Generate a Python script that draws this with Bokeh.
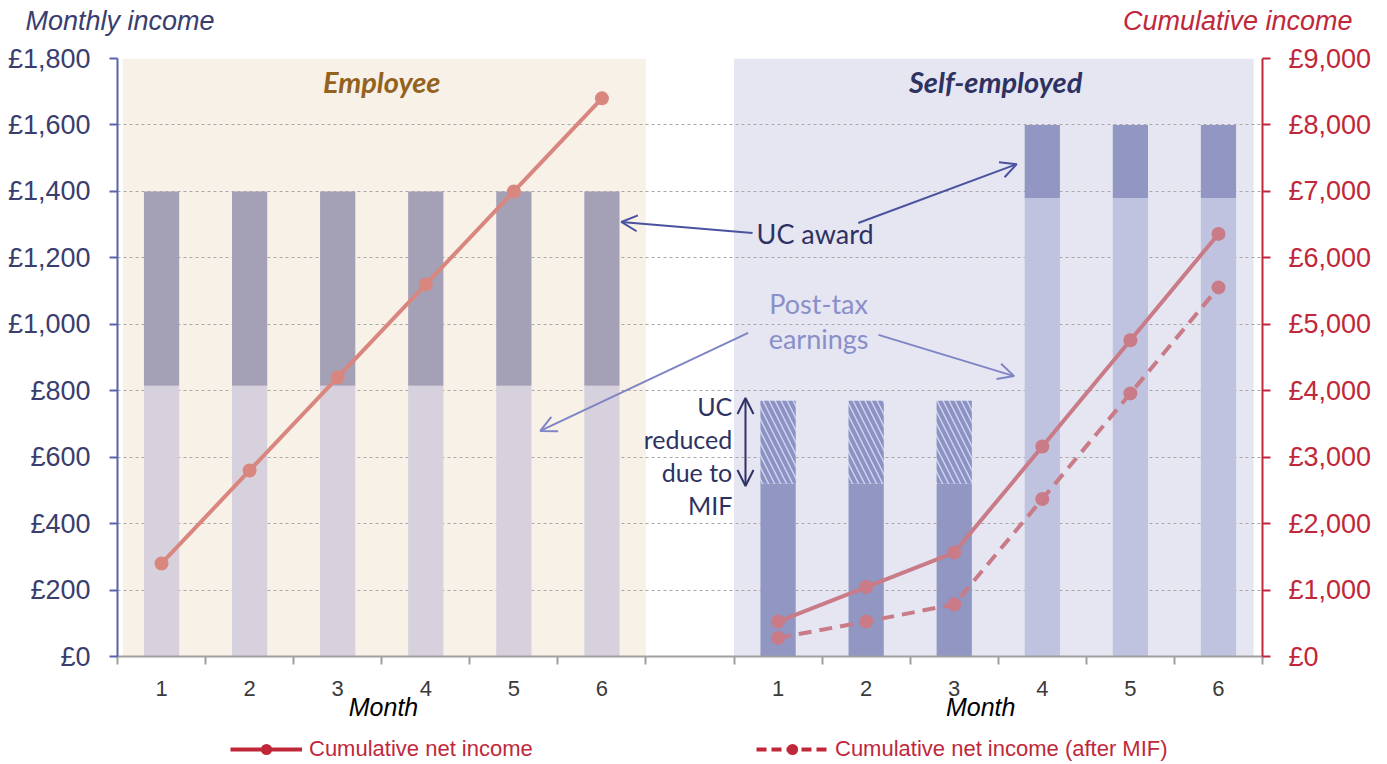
from bokeh.plotting import figure
from bokeh.layouts import column
from bokeh.models import (Range1d, LinearAxis, FixedTicker, ColumnDataSource, Label,
                          Arrow, OpenHead, Legend, LegendItem)
from bokeh.embed import file_html
from bokeh.resources import INLINE

# ---------------- data ----------------
months = ["1", "2", "3", "4", "5", "6"]
emp_x = [0.5, 1.5, 2.5, 3.5, 4.5, 5.5]          # slot centres, employee panel
se_x = [7.5, 8.5, 9.5, 10.5, 11.5, 12.5]        # slot centres, self-employed panel

emp_earnings = [815, 815, 815, 815, 815, 815]
emp_uc = [585, 585, 585, 585, 585, 585]
se_earnings = [0, 0, 0, 1380, 1380, 1380]
se_uc = [520, 520, 520, 220, 220, 220]
se_mif_cut = [250, 250, 250, 0, 0, 0]

emp_cum = [1400, 2800, 4200, 5600, 7000, 8400]
se_cum = [525, 1045, 1565, 3160, 4760, 6360]
se_cum_mif = [280, 525, 785, 2370, 3960, 5555]

left_ticks = [0, 200, 400, 600, 800, 1000, 1200, 1400, 1600, 1800]
right_ticks = [0, 1000, 2000, 3000, 4000, 5000, 6000, 7000, 8000, 9000]

# ---------------- styles ----------------
NAVY = "#2e3262"
CRIMSON = "#c0283a"
FONT = "Liberation Sans"
W = 1380

# ---------------- top strip (axis titles) ----------------
top = figure(width=W, height=40, output_backend="svg", toolbar_location=None,
             x_range=Range1d(0, W), y_range=Range1d(0, 40), x_axis_type=None, y_axis_type=None,
             min_border=0, frame_align=False)
top.outline_line_color = None
top.grid.visible = False
top.add_layout(Label(x=25, y=20, text="Monthly income", text_color="#3a3e6e", text_font=FONT,
                     text_font_size="27px", text_font_style="italic", text_align="left",
                     text_baseline="middle"))
top.add_layout(Label(x=1352, y=20, text="Cumulative income", text_color=CRIMSON, text_font=FONT,
                     text_font_size="27px", text_font_style="italic", text_align="right",
                     text_baseline="middle"))

# ---------------- main chart ----------------
p = figure(frame_width=1145, frame_height=598, output_backend="svg", toolbar_location=None,
           x_range=Range1d(0, 13), y_range=Range1d(0, 1800), frame_align=False,
           min_border_left=117, min_border_right=118, min_border_top=18, min_border_bottom=0)
p.outline_line_color = None
p.extra_y_ranges = {"cum": Range1d(0, 9000)}

# panel backgrounds
p.quad(left=[0.06, 7.0], right=[6.0, 12.9], bottom=[0, 0], top=[1800, 1800],
       fill_color=["#f8f1e7", "#e5e6f2"], line_color=None, level="image")

# grid
p.xgrid.visible = False
p.ygrid.ticker = FixedTicker(ticks=left_ticks)
p.ygrid.grid_line_color = "#a8a8a8"
p.ygrid.grid_line_dash = "3 3"
p.ygrid.grid_line_width = 1

# employee bars
emp_src = ColumnDataSource(dict(x=emp_x, e=emp_earnings,
                                top=[a + b for a, b in zip(emp_earnings, emp_uc)]))
p.vbar(x="x", width=0.4, bottom=0, top="e", source=emp_src, fill_color="#d6d1dc", line_color=None)
p.vbar(x="x", width=0.4, bottom="e", top="top", source=emp_src, fill_color="#a4a1b7", line_color=None)

# self-employed bars
se_top_uc = [a + b for a, b in zip(se_earnings, se_uc)]
se_src = ColumnDataSource(dict(x=se_x, e=se_earnings, u=se_top_uc,
                               m=[a + b for a, b in zip(se_top_uc, se_mif_cut)]))
p.vbar(x="x", width=0.4, bottom=0, top="e", source=se_src, fill_color="#bfc3df", line_color=None)
p.vbar(x="x", width=0.4, bottom="e", top="u", source=se_src, fill_color="#9196c2", line_color=None)
p.vbar(x="x", width=0.4, bottom="u", top="m", source=se_src, fill_color="#d3d6ec", line_color=None,
       hatch_pattern="left_diagonal_line", hatch_color="#8c92c3", hatch_scale=12, hatch_weight=4)

# cumulative lines (right axis)
p.line(emp_x, emp_cum, y_range_name="cum", line_color="#d9867f", line_width=4)
p.scatter(emp_x, emp_cum, y_range_name="cum", size=14, fill_color="#d9867f", line_color=None)
p.line(se_x, se_cum, y_range_name="cum", line_color="#c97b88", line_width=4)
p.scatter(se_x, se_cum, y_range_name="cum", size=14, fill_color="#c97b88", line_color=None)
p.line(se_x, se_cum_mif, y_range_name="cum", line_color="#c97b88", line_width=4, line_dash="13 8")
p.scatter(se_x, se_cum_mif, y_range_name="cum", size=14, fill_color="#c97b88", line_color=None)

# ---------------- axes ----------------
xa = p.below[0]
xa.ticker = FixedTicker(ticks=emp_x + se_x, minor_ticks=list(range(0, 14)))
xa.major_label_overrides = {x: m for x, m in zip(emp_x + se_x, months + months)}
xa.axis_line_color = "#a0a0a0"
xa.axis_line_width = 2
xa.major_tick_line_color = None
xa.minor_tick_line_color = "#a0a0a0"
xa.minor_tick_line_width = 2
xa.minor_tick_out = 8
xa.minor_tick_in = 0
xa.major_label_text_font = FONT
xa.major_label_text_font_size = "22px"
xa.major_label_text_color = "#3a3a3a"
xa.major_label_standoff = 16

month_pos = [3.02, 9.8]
ma = LinearAxis(ticker=FixedTicker(ticks=month_pos))
ma.major_label_overrides = {x: "Month" for x in month_pos}
ma.axis_line_color = None
ma.major_tick_line_color = None
ma.minor_tick_line_color = None
ma.major_label_text_font = FONT
ma.major_label_text_font_size = "25px"
ma.major_label_text_font_style = "italic"
ma.major_label_text_color = "black"
ma.major_label_standoff = -12
p.add_layout(ma, "below")

ya = p.left[0]
ya.ticker = FixedTicker(ticks=left_ticks)
ya.major_label_overrides = {t: "£{:,}".format(t) for t in left_ticks}
ya.axis_line_color = "#5b62ad"
ya.axis_line_width = 2
ya.major_tick_line_color = "#5b62ad"
ya.major_tick_line_width = 2
ya.major_tick_out = 8
ya.major_tick_in = 0
ya.minor_tick_line_color = None
ya.major_label_text_font = FONT
ya.major_label_text_font_size = "27px"
ya.major_label_text_color = "#3a3e6e"
ya.major_label_standoff = 19

ra = LinearAxis(y_range_name="cum", ticker=FixedTicker(ticks=right_ticks))
ra.major_label_overrides = {t: "£{:,}".format(t) for t in right_ticks}
ra.axis_line_color = CRIMSON
ra.axis_line_width = 2
ra.major_tick_line_color = CRIMSON
ra.major_tick_line_width = 2
ra.major_tick_out = 8
ra.major_tick_in = 0
ra.minor_tick_line_color = None
ra.major_label_text_font = FONT
ra.major_label_text_font_size = "27px"
ra.major_label_text_color = CRIMSON
ra.major_label_standoff = 18
p.add_layout(ra, "right")

# ---------------- annotations ----------------
def lab(x, y, t, color, size, font="Lato", style="normal", align="center"):
    p.add_layout(Label(x=x, y=y, text=t, text_color=color, text_font_size=size, text_font=font,
                       text_font_style=style, text_align=align, text_baseline="middle"))

lab(3.0, 1732, "Employee", "#93621f", "29px", style="bold italic")
lab(9.97, 1732, "Self-employed", NAVY, "29px", style="bold italic")
lab(7.92, 1272, "UC award", NAVY, "27px")
lab(7.96, 1064, "Post-tax", "#8a8fc8", "27px")
lab(7.96, 956, "earnings", "#8a8fc8", "27px")
for yy, t in zip([754, 655, 556, 456], ["UC", "reduced", "due to", "MIF"]):
    lab(6.98, yy, t, NAVY, "25px", align="right")

def arr(x0, y0, x1, y1, color, both=False):
    kw = dict(end=OpenHead(size=16, line_color=color, line_width=2),
              x_start=x0, y_start=y0, x_end=x1, y_end=y1, line_color=color, line_width=2)
    if both:
        kw["start"] = OpenHead(size=16, line_color=color, line_width=2)
    p.add_layout(Arrow(**kw))

arr(7.21, 1275, 5.72, 1308, "#4a52a0")
arr(8.41, 1305, 10.21, 1482, "#4a52a0")
arr(7.16, 974, 4.80, 679, "#7f85c4")
arr(8.64, 968, 10.18, 844, "#7f85c4")
arr(7.13, 513, 7.13, 778, NAVY, both=True)

# ---------------- bottom strip (legend) ----------------
BH = 40
bot = figure(width=W, height=BH, output_backend="svg", toolbar_location=None,
             x_range=Range1d(0, W), y_range=Range1d(0, BH), x_axis_type=None, y_axis_type=None,
             min_border=0, frame_align=False)
bot.outline_line_color = None
bot.grid.visible = False
offscreen = dict(x=[-1000], y=[-1000])
l1 = bot.line(x="x", y="y", source=ColumnDataSource(offscreen), line_color=CRIMSON, line_width=4)
d1 = bot.scatter(x="x", y="y", source=ColumnDataSource(offscreen), size=14, fill_color=CRIMSON, line_color=None)
l2 = bot.line(x="x", y="y", source=ColumnDataSource(offscreen), line_color=CRIMSON, line_width=4, line_dash="10 5")
d2 = bot.scatter(x="x", y="y", source=ColumnDataSource(offscreen), size=14, fill_color=CRIMSON, line_color=None)

for item, loc in [(LegendItem(label="Cumulative net income", renderers=[l1, d1]), (230, 0)),
                  (LegendItem(label="Cumulative net income (after MIF)", renderers=[l2, d2]), (756, 0))]:
    lg = Legend(items=[item], location=loc, glyph_width=72, glyph_height=28, label_standoff=7,
                label_text_font=FONT, label_text_font_size="22px", label_text_color=CRIMSON,
                border_line_color=None, background_fill_alpha=0, padding=0, margin=0)
    bot.add_layout(lg)

layout = column(top, p, bot, spacing=0)
open("out.html", "w").write(file_html(layout, INLINE))
